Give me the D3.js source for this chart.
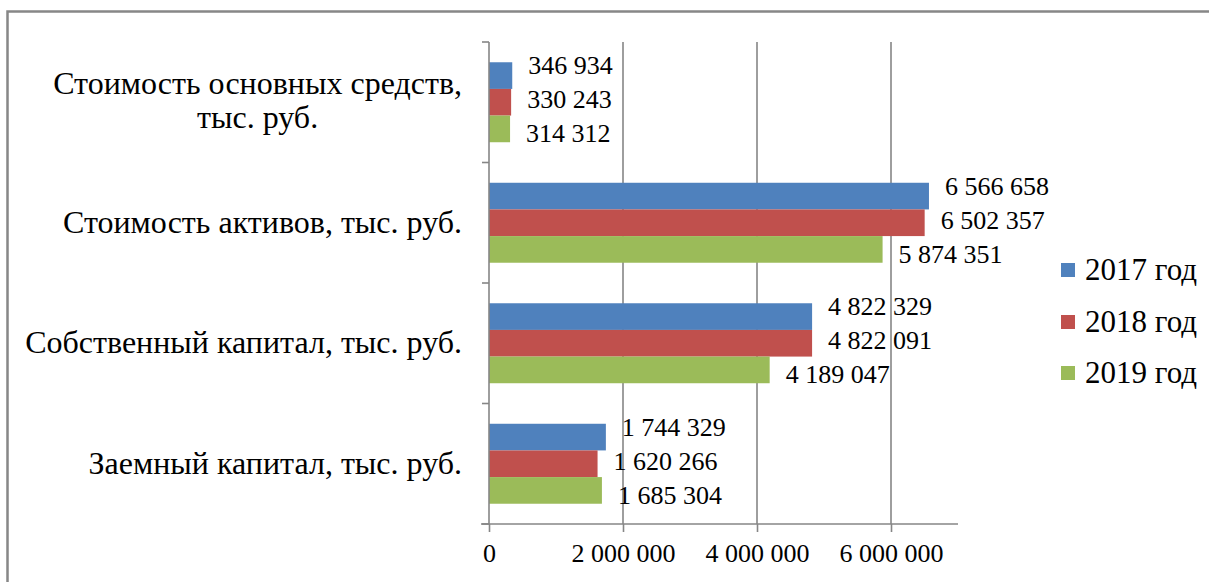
<!DOCTYPE html>
<html>
<head>
<meta charset="utf-8">
<script src="https://cdn.jsdelivr.net/npm/d3@7"></script>
<style>
  svg text { font-family: "Liberation Serif", "Times New Roman", serif !important; }
</style>
</head>
<body style="margin:0">
<svg width="1209" height="582" style="font-family: 'Liberation Serif', serif"></svg>
<script>
// ---- data ----
const categories = [
  "Стоимость основных средств, тыс. руб.",
  "Стоимость активов, тыс. руб.",
  "Собственный капитал, тыс. руб.",
  "Заемный капитал, тыс. руб."
];
const years = ["2017 год", "2018 год", "2019 год"];
const values2017 = [346934, 6566658, 4822329, 1744329];
const values2018 = [330243, 6502357, 4822091, 1620266];
const values2019 = [314312, 5874351, 4189047, 1685304];
const xTicks = [0, 2000000, 4000000, 6000000];
const colors = ["#4F81BD", "#C0504D", "#9BBB59"];

const series = [values2017, values2018, values2019];
const fmt = v => d3.format(",")(v).replace(/,/g, " ");
const FONT = "'Liberation Serif', 'Times New Roman', serif";

const svg = d3.select("svg");
const gridColor = "#868686";

// helper: serif text
function serif(sel, size) {
  return sel.attr("font-family", FONT)
    .attr("font-size", size)
    .style("font-family", FONT, "important")
    .style("font-size", size + "px");
}

// outer frame
svg.append("rect")
  .attr("x", 7.5).attr("y", 11.5)
  .attr("width", 1300).attr("height", 700)
  .attr("fill", "none").attr("stroke", "#878787").attr("stroke-width", 2.5);

const x = d3.scaleLinear().domain([0, 7000000]).range([489, 958]);
const y = d3.scaleBand().domain(categories).range([42, 524]).padding(0);
const sub = d3.scaleBand().domain(years).range([0, y.bandwidth()]).paddingInner(0).paddingOuter(0.76);

// gridlines
svg.append("g").selectAll("line")
  .data(xTicks.filter(t => t > 0))
  .join("line")
  .attr("x1", d => x(d)).attr("x2", d => x(d))
  .attr("y1", 42).attr("y2", 524)
  .attr("stroke", gridColor).attr("stroke-width", 1.6);

// bars
const groups = svg.append("g").selectAll("g")
  .data(categories)
  .join("g")
  .attr("transform", d => `translate(0,${y(d)})`);

groups.selectAll("rect")
  .data((c, ci) => years.map((yr, si) => ({ yr, si, v: series[si][ci] })))
  .join("rect")
  .attr("x", x(0))
  .attr("y", d => sub(d.yr))
  .attr("width", d => x(d.v) - x(0))
  .attr("height", sub.bandwidth())
  .attr("fill", d => colors[d.si]);

// value labels
serif(groups.selectAll("text.val")
  .data((c, ci) => years.map((yr, si) => ({ yr, si, v: series[si][ci] })))
  .join("text")
  .attr("class", "val"), 26)
  .attr("x", d => x(d.v) + 16)
  .attr("y", d => y.bandwidth() / 2 + (d.si - 1) * 34 + 6)
  .text(d => fmt(d.v));

// bottom axis
const xAxis = svg.append("g")
  .attr("transform", "translate(0,524)")
  .call(d3.axisBottom(x).tickValues(xTicks).tickFormat(fmt).tickSize(8).tickPadding(12));
xAxis.attr("font-family", null).attr("font-size", null);
xAxis.select(".domain").attr("stroke", gridColor).attr("stroke-width", 1.6)
  .attr("d", `M${x(0) - 8},0H${x(7000000)}`);
xAxis.selectAll(".tick line").attr("stroke", gridColor).attr("stroke-width", 1.6);
serif(xAxis.selectAll(".tick text"), 26).attr("fill", "#000");

// left axis line + category boundary ticks
svg.append("line")
  .attr("x1", x(0)).attr("x2", x(0)).attr("y1", 42).attr("y2", 524)
  .attr("stroke", gridColor).attr("stroke-width", 1.6);
const bounds = categories.map(c => y(c)).concat([y(categories[categories.length - 1]) + y.bandwidth()]);
svg.append("g").selectAll("line")
  .data(bounds)
  .join("line")
  .attr("x1", x(0) - 7).attr("x2", x(0))
  .attr("y1", d => d).attr("y2", d => d)
  .attr("stroke", gridColor).attr("stroke-width", 1.6);

// category labels
const labelRight = 462;
categories.forEach((c, i) => {
  const cy = y(c) + y.bandwidth() / 2;
  const t = serif(svg.append("text"), 32)
    .attr("text-anchor", "end")
    .attr("x", labelRight)
    .attr("y", cy + 10)
    .text(c);
  if (t.node().getComputedTextLength() > 440) {
    const parts = c.split(", ");
    const first = parts[0] + ",";
    const second = parts.slice(1).join(", ");
    t.text(first).attr("y", cy - 8);
    const w = t.node().getComputedTextLength();
    serif(svg.append("text"), 32)
      .attr("text-anchor", "middle")
      .attr("x", labelRight - w / 2)
      .attr("y", cy + 26)
      .text(second);
  }
});

// legend
const legend = svg.append("g").selectAll("g")
  .data(years)
  .join("g")
  .attr("transform", (d, i) => `translate(1061,${[270, 322, 373][i]})`);
legend.append("rect")
  .attr("x", 0).attr("y", -7).attr("width", 14).attr("height", 14)
  .attr("fill", (d, i) => colors[i]);
serif(legend.append("text"), 31)
  .attr("x", 24).attr("y", 10)
  .text(d => d);
</script>
</body>
</html>
